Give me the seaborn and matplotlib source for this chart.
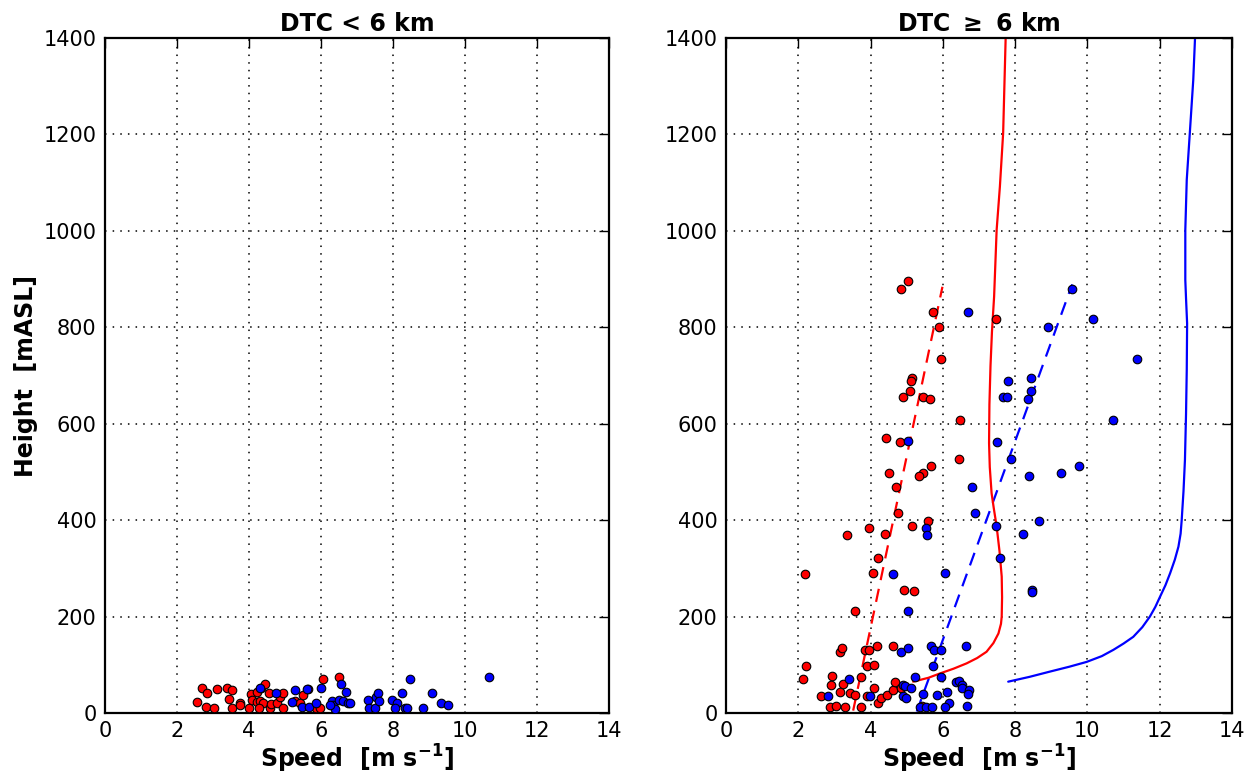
import numpy as np
import pandas as pd
import matplotlib
matplotlib.use("Agg")
import matplotlib.pyplot as plt
import seaborn as sns

# ---------------- data ----------------
# Left panel (DTC < 6 km)
left_red_speed = [2.69, 2.82, 3.12, 3.38, 3.54, 2.56, 2.81, 3.02, 3.44, 3.54, 3.75, 3.75, 4.00, 4.05,
                  4.07, 4.21, 4.34, 4.44, 4.21, 4.31, 4.40, 4.29, 4.58, 4.56, 4.62, 4.79, 4.86, 4.95,
                  4.94, 5.28, 5.42, 5.51, 5.65, 6.06, 6.49, 5.86, 5.97]
left_red_height = [51, 41, 49, 51, 48, 23, 12, 10, 29, 10, 21, 16, 11, 39,
                   27, 43, 52, 61, 23, 24, 20, 10, 10, 42, 19, 21, 33, 42,
                   10, 25, 21, 38, 49, 70, 75, 10, 10]
left_blue_speed = [4.31, 4.74, 5.28, 5.60, 5.19, 5.46, 5.68, 5.86, 6.00, 6.56, 6.69, 6.30, 6.34, 6.51,
                   6.62, 6.76, 6.40, 6.25, 6.81, 7.30, 7.33, 7.49, 7.53, 7.58, 7.60, 7.98, 8.10, 8.06,
                   8.25, 8.33, 8.40, 8.46, 8.84, 9.07, 9.32, 9.53, 10.67]
left_blue_height = [51, 41, 48, 49, 23, 12, 12, 21, 51, 60, 43, 25, 16, 28,
                    25, 20, 9, 16, 21, 27, 10, 10, 33, 41, 24, 27, 20, 10,
                    42, 10, 10, 70, 10, 42, 21, 16, 75]

# Right panel (DTC >= 6 km)
right_red_speed = [2.19, 4.06, 3.57, 4.93, 5.21, 2.21, 2.14, 3.15, 3.21, 3.85, 3.95, 4.17, 4.63, 3.91,
                   4.10, 2.93, 2.90, 3.25, 3.74, 2.64, 3.16, 3.43, 3.56, 3.89, 4.10, 4.20, 4.29, 4.45,
                   4.63, 4.69, 4.85, 2.88, 3.05, 3.30, 3.74, 5.42, 5.03, 4.85, 5.73, 7.48, 5.90, 5.96,
                   5.14, 5.13, 5.09, 4.89, 5.46, 5.65, 6.48, 4.43, 4.82, 6.44, 5.67, 5.46, 5.33, 4.51,
                   4.70, 4.77, 5.59, 5.14, 3.96, 4.40, 3.34, 4.20]
right_red_height = [288, 291, 211, 255, 253, 98, 70, 127, 135, 131, 131, 138, 140, 98,
                    99, 76, 58, 60, 75, 36, 43, 41, 38, 36, 52, 21, 32, 37,
                    47, 64, 52, 12, 14, 12, 12, 15, 896, 880, 831, 818, 801, 735,
                    694, 688, 668, 656, 656, 651, 608, 571, 562, 527, 512, 497, 492, 498,
                    469, 415, 398, 387, 384, 372, 369, 322]
right_blue_speed = [4.62, 6.06, 5.04, 3.40, 2.83, 3.99, 4.83, 5.05, 5.67, 5.75, 5.96, 6.65, 5.74, 5.23,
                    5.95, 4.91, 4.96, 4.91, 4.98, 5.13, 5.46, 5.83, 6.12, 6.36, 6.45, 6.54, 6.52, 6.72,
                    6.69, 6.16, 5.37, 5.53, 5.71, 6.07, 6.66, 6.69, 5.04, 7.51, 7.80, 7.67, 7.78, 7.89,
                    6.82, 6.88, 7.47, 5.53, 5.56, 7.57, 9.58, 10.16, 8.92, 11.36, 8.44, 8.43, 8.35,
                    10.72, 9.76, 9.28, 8.38, 8.65, 8.21, 8.48, 8.48]
right_blue_height = [288, 291, 211, 71, 36, 36, 127, 135, 138, 131, 131, 140, 98, 75,
                     75, 58, 55, 36, 32, 52, 40, 37, 43, 64, 66, 59, 52, 47,
                     39, 21, 12, 12, 12, 12, 15, 831, 564, 562, 688, 656, 656, 527,
                     469, 415, 387, 384, 369, 322, 880, 818, 801, 734, 694, 667, 651,
                     608, 512, 497, 492, 398, 371, 255, 251]

# Linear fits (dashed)
red_fit_speed = [3.52, 5.99]
red_fit_height = [5, 884]
blue_fit_speed = [5.28, 9.58]
blue_fit_height = [3, 889]

# Profiles (solid)
red_prof_speed = [5.18, 5.60, 5.92, 6.30, 6.66, 6.95, 7.21, 7.40, 7.54, 7.61, 7.63, 7.64, 7.63, 7.57,
                  7.49, 7.41, 7.35, 7.30, 7.28, 7.29, 7.32, 7.36, 7.42, 7.49, 7.58, 7.67, 7.74]
red_prof_height = [65, 73, 82, 92, 103, 114, 127, 145, 165, 185, 200, 240, 283, 335,
                   387, 425, 456, 510, 560, 640, 720, 790, 864, 1002, 1092, 1203, 1402]
blue_prof_speed = [7.81, 8.40, 8.97, 9.50, 9.98, 10.40, 10.72, 11.00, 11.27, 11.52, 11.73, 11.88,
                   12.01, 12.16, 12.29, 12.42, 12.52, 12.58, 12.61, 12.66, 12.70, 12.73, 12.75,
                   12.76, 12.73, 12.71, 12.71, 12.75, 12.84, 12.93, 12.98]
blue_prof_height = [65, 75, 86, 96, 106, 118, 131, 144, 158, 178, 200, 220,
                    241, 265, 290, 318, 345, 372, 400, 460, 525, 620, 712,
                    808, 860, 898, 1002, 1106, 1209, 1313, 1402]

titles = ["DTC < 6 km", r"DTC $\geq$ 6 km"]
xlabel = r"Speed  [m s$^{-1}$]"
ylabel = "Height  [mASL]"
xticks = [0, 2, 4, 6, 8, 10, 12, 14]
yticks = [0, 200, 400, 600, 800, 1000, 1200, 1400]

# ---------------- style ----------------
sns.set_style("white")
plt.rcParams['font.family'] = ['DejaVu Sans']
plt.rcParams['mathtext.default'] = 'regular'
plt.rcParams['text.color'] = 'black'
plt.rcParams['axes.labelcolor'] = 'black'
plt.rcParams['xtick.color'] = 'black'
plt.rcParams['ytick.color'] = 'black'

fig = plt.figure(figsize=(12.59, 7.74), dpi=100)
ax1 = fig.add_axes([0.0834, 0.0788, 0.4003, 0.8721])
ax2 = fig.add_axes([0.5766, 0.0788, 0.4019, 0.8721])

red_prof = pd.DataFrame({"h": red_prof_height, "s": red_prof_speed})
blue_prof = pd.DataFrame({"h": blue_prof_height, "s": blue_prof_speed})

mk = dict(s=38, edgecolor="black", linewidth=0.8, zorder=3, legend=False)

def style(ax, title, show_ylabel):
    ax.set_xlim(0, 14)
    ax.set_ylim(0, 1400)
    ax.set_xticks(xticks)
    ax.set_yticks(yticks)
    ax.grid(True, color="black", linestyle=(0, (1, 4)), linewidth=1.1)
    ax.set_axisbelow(True)
    for sp in ax.spines.values():
        sp.set_visible(True)
        sp.set_color("black")
        sp.set_linewidth(1.6)
    ax.tick_params(direction="in", length=7, width=1, top=True, right=True,
                   labelsize=15, pad=6, colors="black")
    ax.set_title(title, fontsize=17, fontweight="bold", pad=5, color="black")
    ax.set_xlabel(xlabel, fontsize=17, fontweight="bold", labelpad=1, color="black")
    if show_ylabel:
        ax.set_ylabel(ylabel, fontsize=17, fontweight="bold", labelpad=4, color="black")
    else:
        ax.set_ylabel("")

# Left panel
sns.scatterplot(x=left_red_speed, y=left_red_height, color="red", ax=ax1, **mk)
sns.scatterplot(x=left_blue_speed, y=left_blue_height, color="blue", ax=ax1, **mk)
style(ax1, titles[0], True)

# Right panel
sns.scatterplot(x=right_red_speed, y=right_red_height, color="red", ax=ax2, **mk)
sns.scatterplot(x=right_blue_speed, y=right_blue_height, color="blue", ax=ax2, **mk)
sns.lineplot(x=red_fit_speed, y=red_fit_height, color="red", ax=ax2, sort=False, estimator=None,
             linewidth=1.6, zorder=2).lines[-1].set_dashes([6, 4])
sns.lineplot(x=blue_fit_speed, y=blue_fit_height, color="blue", ax=ax2, sort=False, estimator=None,
             linewidth=1.6, zorder=2).lines[-1].set_dashes([6, 4])
sns.lineplot(data=red_prof, x="s", y="h", color="red", ax=ax2, sort=False, estimator=None,
             linewidth=1.6, zorder=2)
sns.lineplot(data=blue_prof, x="s", y="h", color="blue", ax=ax2, sort=False, estimator=None,
             linewidth=1.6, zorder=2)
style(ax2, titles[1], False)

fig.savefig("out.png", dpi=100)
